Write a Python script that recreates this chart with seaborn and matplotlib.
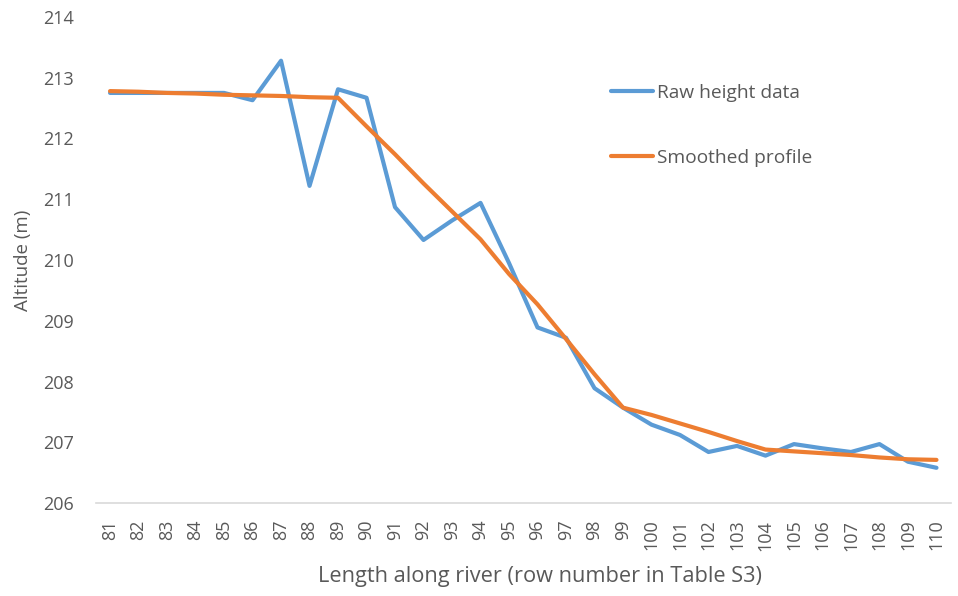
import matplotlib
matplotlib.use("Agg")
import matplotlib.pyplot as plt
import seaborn as sns
import pandas as pd
import numpy as np

rows = list(range(81, 111))
raw_height = [212.75, 212.75, 212.75, 212.75, 212.75, 212.63, 213.28, 211.22, 212.81, 212.67,
              210.87, 210.33, 210.65, 210.94, 209.95, 208.89, 208.72, 207.89, 207.57, 207.29,
              207.12, 206.84, 206.94, 206.78, 206.97, 206.90, 206.84, 206.97, 206.68, 206.58]
smoothed = [212.78, 212.77, 212.75, 212.74, 212.72, 212.71, 212.70, 212.68, 212.67, 212.20,
            211.74, 211.26, 210.80, 210.34, 209.77, 209.27, 208.70, 208.12, 207.57, 207.45,
            207.31, 207.17, 207.02, 206.88, 206.85, 206.82, 206.79, 206.75, 206.72, 206.71]
series_names = ["Raw height data", "Smoothed profile"]
y_ticks = list(range(206, 215))
x_label = "Length along river (row number in Table S3)"
y_label = "Altitude (m)"

df = pd.DataFrame({
    "row": rows * 2,
    "alt": raw_height + smoothed,
    "series": [series_names[0]] * len(rows) + [series_names[1]] * len(rows),
})

sns.set_theme(style="white")
plt.rcParams["font.family"] = ["Open Sans", "DejaVu Sans"]
grey = "#595959"

fig = plt.figure(figsize=(9.58, 5.96), dpi=100)
ax = fig.add_axes([0.1, 0.156, 0.8924, 0.8155])

sns.lineplot(data=df, x="row", y="alt", hue="series", palette=["#5B9BD5", "#ED7D31"],
             linewidth=3.0, ax=ax, legend=False)

ax.set_xlim(80.5, 110.5)
ax.set_ylim(206, 214)
ax.set_yticks(y_ticks)
ax.set_yticklabels([str(t) for t in y_ticks], fontsize=13, color=grey)
ax.set_xticks(rows)
ax.set_xticklabels([str(r) for r in rows], rotation=90, fontsize=13, color=grey)
ax.tick_params(axis="y", length=0, pad=16)
ax.tick_params(axis="x", length=0, pad=12)

for s in ["top", "right", "left"]:
    ax.spines[s].set_visible(False)
ax.spines["bottom"].set_color("#D9D9D9")
ax.spines["bottom"].set_linewidth(1.2)

ax.set_xlabel(x_label, fontsize=15.7, color=grey, labelpad=12)
ax.set_ylabel(y_label, fontsize=13.5, color=grey, labelpad=8)
ax.xaxis.set_label_coords(0.52, -0.13)

handles = ax.get_lines()[:2]
leg = ax.legend(handles, series_names, loc="upper left", bbox_to_anchor=(0.582, 0.898),
                frameon=False, fontsize=13.8, labelspacing=2.45, handlelength=2.2,
                handletextpad=0.2, labelcolor=grey)

fig.savefig("out.png", dpi=100)
